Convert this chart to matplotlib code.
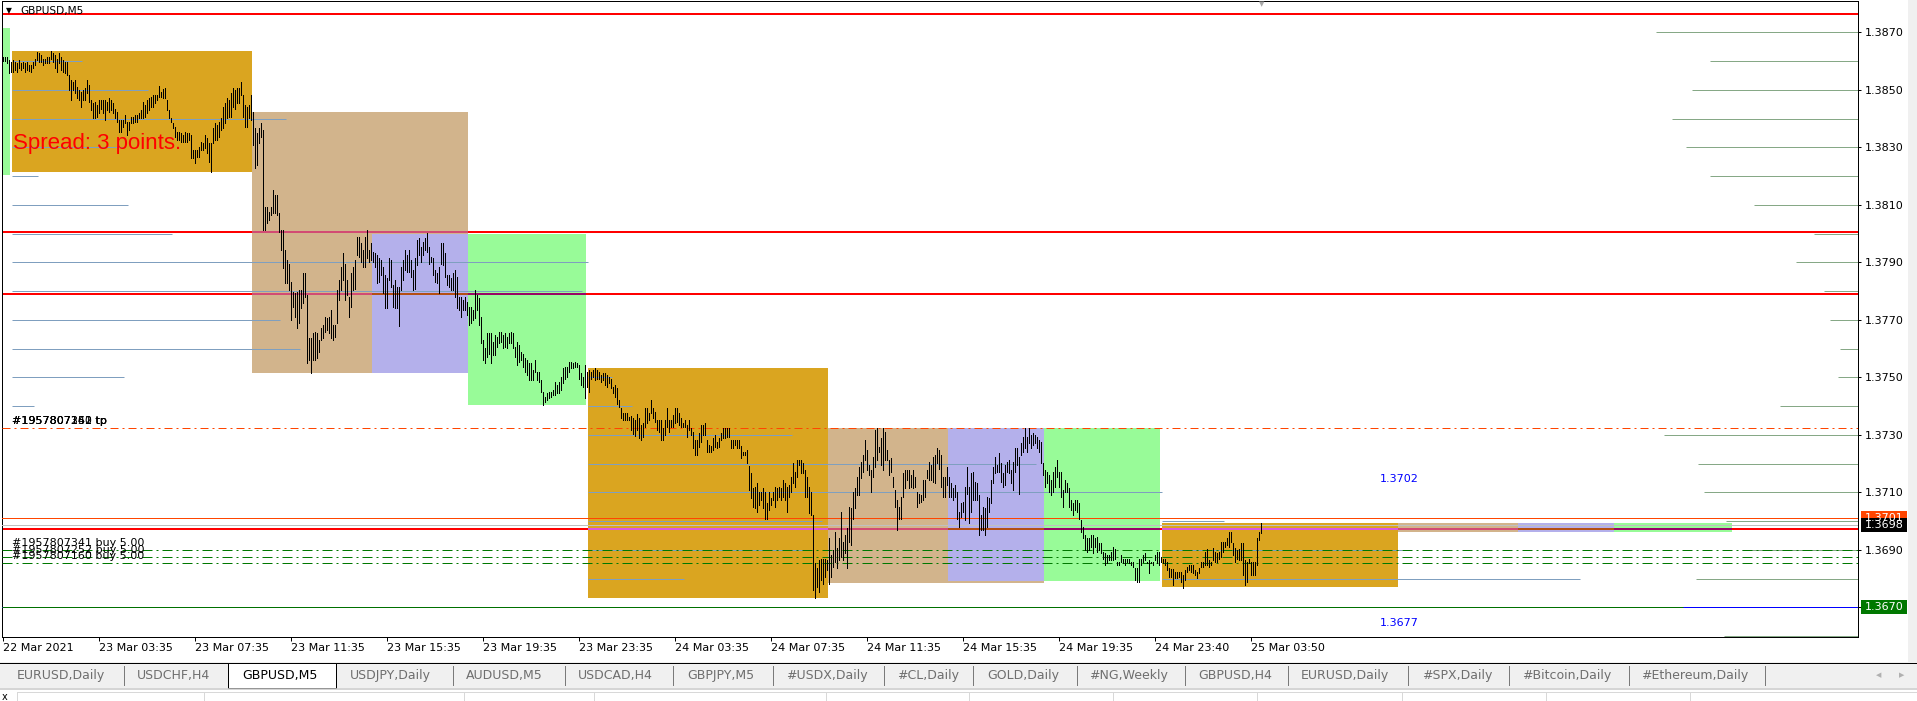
import matplotlib
matplotlib.use("Agg")
import matplotlib.pyplot as plt
from matplotlib.patches import Rectangle
from matplotlib.lines import Line2D

plt.rcParams["lines.scale_dashes"] = False
plt.rcParams["font.family"] = ["DejaVu Sans"]

W, H = 1917, 701

# ---------------- data (GBPUSD M5, bar highs / lows) ----------------
highs = [
    1.38613, 1.38613, 1.38613, 1.38604, 1.38598, 1.38604, 1.38598, 1.38592, 1.38604, 1.38592,
    1.38598, 1.38592, 1.38598, 1.38586, 1.38586, 1.38598, 1.38609, 1.38633, 1.38627, 1.38621,
    1.38609, 1.38609, 1.38615, 1.38615, 1.38636, 1.38627, 1.38621, 1.38609, 1.38627, 1.38615,
    1.38604, 1.38598, 1.38598, 1.38551, 1.38534, 1.38528, 1.38534, 1.38511, 1.38499, 1.38493,
    1.38499, 1.38505, 1.38534, 1.38517, 1.38464, 1.38453, 1.38459, 1.38447, 1.38464, 1.38464,
    1.38464, 1.38464, 1.38459, 1.38470, 1.38464, 1.38453, 1.38435, 1.38424, 1.38395, 1.38395,
    1.38395, 1.38412, 1.38389, 1.38389, 1.38407, 1.38407, 1.38412, 1.38412, 1.38418, 1.38430,
    1.38459, 1.38447, 1.38464, 1.38470, 1.38476, 1.38482, 1.38482, 1.38482, 1.38513, 1.38493,
    1.38502, 1.38505, 1.38464, 1.38430, 1.38401, 1.38383, 1.38372, 1.38354, 1.38354, 1.38349,
    1.38343, 1.38354, 1.38349, 1.38349, 1.38343, 1.38291, 1.38291, 1.38291, 1.38302, 1.38320,
    1.38314, 1.38343, 1.38331, 1.38314, 1.38314, 1.38366, 1.38383, 1.38378, 1.38389, 1.38401,
    1.38441, 1.38453, 1.38470, 1.38464, 1.38488, 1.38505, 1.38499, 1.38505, 1.38505, 1.38528,
    1.38482, 1.38447, 1.38441, 1.38447, 1.38482, 1.38424, 1.38366, 1.38349, 1.38366, 1.38383,
    1.38360, 1.38093, 1.38093, 1.38076, 1.38093, 1.38151, 1.38134, 1.38134, 1.38070, 1.38012,
    1.38012, 1.37943, 1.37908, 1.37896, 1.37833, 1.37798, 1.37792, 1.37798, 1.37804, 1.37804,
    1.37862, 1.37862, 1.37786, 1.37636, 1.37636, 1.37653, 1.37659, 1.37653, 1.37630, 1.37670,
    1.37682, 1.37711, 1.37705, 1.37711, 1.37734, 1.37682, 1.37682, 1.37804, 1.37838, 1.37885,
    1.37931, 1.37896, 1.37838, 1.37780, 1.37862, 1.37885, 1.37908, 1.37989, 1.37989, 1.37966,
    1.37943, 1.37989, 1.38012, 1.37943, 1.37966, 1.37937, 1.37931, 1.37925, 1.37914, 1.37908,
    1.37885, 1.37856, 1.37844, 1.37914, 1.37908, 1.37821, 1.37838, 1.37815, 1.37815, 1.37885,
    1.37908, 1.37943, 1.37925, 1.37943, 1.37908, 1.37873, 1.37914, 1.37978, 1.37983, 1.37954,
    1.37972, 1.37983, 1.38001, 1.37954, 1.37920, 1.37914, 1.37873, 1.37862, 1.37885, 1.37966,
    1.37966, 1.37931, 1.37856, 1.37856, 1.37844, 1.37862, 1.37873, 1.37850, 1.37780, 1.37780,
    1.37769, 1.37780, 1.37763, 1.37746, 1.37746, 1.37734, 1.37804, 1.37786, 1.37775, 1.37711,
    1.37630, 1.37601, 1.37653, 1.37653, 1.37653, 1.37624, 1.37647, 1.37641, 1.37659, 1.37659,
    1.37647, 1.37653, 1.37641, 1.37653, 1.37659, 1.37653, 1.37607, 1.37624, 1.37612, 1.37589,
    1.37583, 1.37566, 1.37560, 1.37549, 1.37549, 1.37525, 1.37562, 1.37520, 1.37520, 1.37491,
    1.37450, 1.37433, 1.37444, 1.37450, 1.37450, 1.37456, 1.37485, 1.37473, 1.37485, 1.37502,
    1.37531, 1.37537, 1.37537, 1.37552, 1.37552, 1.37549, 1.37554, 1.37549, 1.37543, 1.37514,
    1.37502, 1.37543, 1.37520, 1.37525, 1.37520, 1.37525, 1.37531, 1.37525, 1.37520, 1.37508,
    1.37514, 1.37514, 1.37508, 1.37502, 1.37496, 1.37467, 1.37473, 1.37462, 1.37421, 1.37392,
    1.37375, 1.37375, 1.37375, 1.37363, 1.37365, 1.37358, 1.37351, 1.37372, 1.37358, 1.37334,
    1.37340, 1.37392, 1.37392, 1.37375, 1.37421, 1.37392, 1.37380, 1.37351, 1.37351, 1.37351,
    1.37323, 1.37351, 1.37392, 1.37351, 1.37351, 1.37369, 1.37392, 1.37392, 1.37375, 1.37357,
    1.37340, 1.37351, 1.37334, 1.37351, 1.37323, 1.37311, 1.37282, 1.37282, 1.37305, 1.37334,
    1.37334, 1.37340, 1.37282, 1.37265, 1.37261, 1.37288, 1.37299, 1.37276, 1.37288, 1.37305,
    1.37323, 1.37323, 1.37323, 1.37323, 1.37282, 1.37282, 1.37282, 1.37282, 1.37282, 1.37261,
    1.37241, 1.37241, 1.37247, 1.37191, 1.37166, 1.37114, 1.37120, 1.37131, 1.37102, 1.37102,
    1.37114, 1.37102, 1.37062, 1.37102, 1.37079, 1.37102, 1.37120, 1.37114, 1.37120, 1.37114,
    1.37143, 1.37131, 1.37120, 1.37125, 1.37154, 1.37201, 1.37172, 1.37212, 1.37212, 1.37212,
    1.37201, 1.37178, 1.37154, 1.37120, 1.37102, 1.37021, 1.36853, 1.36836, 1.36865, 1.36870,
    1.36870, 1.36870, 1.36865, 1.36940, 1.36882, 1.36899, 1.36963, 1.36905, 1.36940, 1.37033,
    1.36928, 1.36951, 1.36975, 1.37050, 1.37044, 1.37102, 1.37114, 1.37154, 1.37189, 1.37207,
    1.37230, 1.37282, 1.37247, 1.37195, 1.37178, 1.37224, 1.37317, 1.37323, 1.37259, 1.37288,
    1.37323, 1.37311, 1.37247, 1.37212, 1.37218, 1.37154, 1.37108, 1.37073, 1.37050, 1.37085,
    1.37166, 1.37178, 1.37178, 1.37178, 1.37160, 1.37178, 1.37154, 1.37102, 1.37096, 1.37091,
    1.37143, 1.37143, 1.37178, 1.37207, 1.37195, 1.37224, 1.37230, 1.37253, 1.37247, 1.37230,
    1.37154, 1.37154, 1.37189, 1.37154, 1.37131, 1.37114, 1.37125, 1.37102, 1.37033, 1.37062,
    1.37067, 1.37120, 1.37189, 1.37120, 1.37166, 1.37172, 1.37137, 1.37131, 1.37091, 1.37021,
    1.37050, 1.37044, 1.37085, 1.37079, 1.37143, 1.37189, 1.37224, 1.37195, 1.37236, 1.37201,
    1.37166, 1.37195, 1.37207, 1.37212, 1.37178, 1.37207, 1.37253, 1.37253, 1.37224, 1.37270,
    1.37294, 1.37323, 1.37294, 1.37323, 1.37299, 1.37305, 1.37299, 1.37294, 1.37282, 1.37276,
    1.37201, 1.37178, 1.37172, 1.37160, 1.37143, 1.37172, 1.37189, 1.37212, 1.37172, 1.37172,
    1.37108, 1.37143, 1.37131, 1.37114, 1.37073, 1.37062, 1.37073, 1.37073, 1.37062, 1.37004,
    1.36980, 1.36951, 1.36940, 1.36940, 1.36951, 1.36951, 1.36940, 1.36946, 1.36923, 1.36923,
    1.36894, 1.36888, 1.36882, 1.36882, 1.36894, 1.36911, 1.36902, 1.36859, 1.36859, 1.36882,
    1.36870, 1.36870, 1.36870, 1.36870, 1.36859, 1.36859, 1.36836, 1.36836, 1.36870, 1.36870,
    1.36882, 1.36888, 1.36859, 1.36865, 1.36859, 1.36859, 1.36882, 1.36894, 1.36894, 1.36876,
    1.36870, 1.36870, 1.36859, 1.36836, 1.36832, 1.36832, 1.36824, 1.36824, 1.36824, 1.36824,
    1.36812, 1.36830, 1.36841, 1.36847, 1.36847, 1.36847, 1.36830, 1.36824, 1.36836, 1.36859,
    1.36859, 1.36894, 1.36902, 1.36865, 1.36859, 1.36905, 1.36894, 1.36888, 1.36894, 1.36928,
    1.36928, 1.36928, 1.36940, 1.36963, 1.36963, 1.36923, 1.36905, 1.36899, 1.36902, 1.36923,
    1.36923, 1.36865, 1.36859, 1.36870, 1.36859, 1.36859, 1.36859, 1.36940, 1.36963, 1.36992,
]
lows = [
    1.38601, 1.38601, 1.38592, 1.38560, 1.38563, 1.38563, 1.38569, 1.38563, 1.38575, 1.38569,
    1.38575, 1.38563, 1.38569, 1.38565, 1.38563, 1.38575, 1.38586, 1.38604, 1.38598, 1.38598,
    1.38586, 1.38592, 1.38592, 1.38592, 1.38609, 1.38598, 1.38575, 1.38563, 1.38592, 1.38569,
    1.38563, 1.38557, 1.38551, 1.38499, 1.38464, 1.38499, 1.38488, 1.38470, 1.38464, 1.38441,
    1.38464, 1.38464, 1.38488, 1.38459, 1.38430, 1.38401, 1.38401, 1.38407, 1.38418, 1.38435,
    1.38418, 1.38395, 1.38430, 1.38424, 1.38430, 1.38418, 1.38401, 1.38389, 1.38354, 1.38354,
    1.38372, 1.38383, 1.38343, 1.38360, 1.38383, 1.38383, 1.38389, 1.38389, 1.38401, 1.38401,
    1.38401, 1.38407, 1.38418, 1.38430, 1.38441, 1.38441, 1.38453, 1.38464, 1.38476, 1.38476,
    1.38470, 1.38470, 1.38430, 1.38401, 1.38389, 1.38366, 1.38337, 1.38325, 1.38325, 1.38320,
    1.38320, 1.38320, 1.38320, 1.38325, 1.38262, 1.38262, 1.38244, 1.38267, 1.38267, 1.38291,
    1.38291, 1.38296, 1.38279, 1.38250, 1.38215, 1.38314, 1.38325, 1.38325, 1.38337, 1.38360,
    1.38366, 1.38383, 1.38401, 1.38407, 1.38407, 1.38441, 1.38435, 1.38453, 1.38453, 1.38482,
    1.38407, 1.38372, 1.38372, 1.38401, 1.38395, 1.38308, 1.38227, 1.38238, 1.38314, 1.38337,
    1.38012, 1.38012, 1.38036, 1.38047, 1.38065, 1.38070, 1.38070, 1.38065, 1.38007, 1.37943,
    1.37879, 1.37827, 1.37827, 1.37804, 1.37699, 1.37746, 1.37711, 1.37670, 1.37688, 1.37740,
    1.37757, 1.37780, 1.37549, 1.37560, 1.37514, 1.37560, 1.37560, 1.37566, 1.37589, 1.37630,
    1.37636, 1.37659, 1.37665, 1.37653, 1.37636, 1.37630, 1.37641, 1.37688, 1.37769, 1.37804,
    1.37838, 1.37769, 1.37786, 1.37711, 1.37746, 1.37804, 1.37809, 1.37925, 1.37920, 1.37902,
    1.37885, 1.37885, 1.37914, 1.37902, 1.37908, 1.37902, 1.37885, 1.37827, 1.37833, 1.37856,
    1.37792, 1.37740, 1.37740, 1.37838, 1.37815, 1.37746, 1.37740, 1.37740, 1.37678, 1.37804,
    1.37838, 1.37873, 1.37867, 1.37867, 1.37850, 1.37804, 1.37809, 1.37891, 1.37925, 1.37902,
    1.37925, 1.37943, 1.37937, 1.37896, 1.37902, 1.37856, 1.37833, 1.37827, 1.37792, 1.37896,
    1.37891, 1.37850, 1.37821, 1.37815, 1.37804, 1.37804, 1.37780, 1.37740, 1.37734, 1.37711,
    1.37734, 1.37734, 1.37717, 1.37682, 1.37688, 1.37699, 1.37705, 1.37734, 1.37682, 1.37618,
    1.37560, 1.37549, 1.37572, 1.37583, 1.37549, 1.37578, 1.37578, 1.37607, 1.37618, 1.37624,
    1.37601, 1.37607, 1.37601, 1.37618, 1.37618, 1.37601, 1.37572, 1.37543, 1.37554, 1.37560,
    1.37537, 1.37520, 1.37508, 1.37491, 1.37491, 1.37491, 1.37520, 1.37491, 1.37485, 1.37450,
    1.37404, 1.37415, 1.37421, 1.37427, 1.37433, 1.37438, 1.37438, 1.37444, 1.37444, 1.37456,
    1.37479, 1.37496, 1.37502, 1.37520, 1.37531, 1.37531, 1.37537, 1.37537, 1.37496, 1.37473,
    1.37467, 1.37427, 1.37467, 1.37450, 1.37496, 1.37502, 1.37491, 1.37496, 1.37496, 1.37485,
    1.37491, 1.37473, 1.37467, 1.37479, 1.37462, 1.37444, 1.37433, 1.37409, 1.37398, 1.37357,
    1.37351, 1.37351, 1.37351, 1.37351, 1.37317, 1.37303, 1.37296, 1.37317, 1.37289, 1.37282,
    1.37294, 1.37328, 1.37340, 1.37351, 1.37375, 1.37357, 1.37346, 1.37317, 1.37311, 1.37282,
    1.37282, 1.37299, 1.37328, 1.37311, 1.37328, 1.37328, 1.37340, 1.37346, 1.37334, 1.37328,
    1.37328, 1.37328, 1.37294, 1.37317, 1.37299, 1.37253, 1.37230, 1.37230, 1.37259, 1.37276,
    1.37299, 1.37299, 1.37241, 1.37241, 1.37241, 1.37247, 1.37259, 1.37253, 1.37259, 1.37282,
    1.37288, 1.37288, 1.37294, 1.37294, 1.37253, 1.37253, 1.37265, 1.37253, 1.37253, 1.37218,
    1.37230, 1.37230, 1.37201, 1.37108, 1.37079, 1.37050, 1.37044, 1.37033, 1.37056, 1.37073,
    1.37044, 1.37009, 1.37009, 1.37038, 1.37056, 1.37073, 1.37050, 1.37073, 1.37085, 1.37073,
    1.37085, 1.37073, 1.37033, 1.37085, 1.37102, 1.37131, 1.37120, 1.37154, 1.37195, 1.37166,
    1.37166, 1.37085, 1.37085, 1.37027, 1.37021, 1.36760, 1.36731, 1.36772, 1.36754, 1.36795,
    1.36783, 1.36807, 1.36830, 1.36783, 1.36807, 1.36841, 1.36859, 1.36836, 1.36865, 1.36876,
    1.36865, 1.36888, 1.36836, 1.36928, 1.36917, 1.37009, 1.37044, 1.37091, 1.37091, 1.37149,
    1.37172, 1.37212, 1.37178, 1.37160, 1.37102, 1.37154, 1.37189, 1.37212, 1.37241, 1.37195,
    1.37178, 1.37212, 1.37212, 1.37160, 1.37172, 1.37120, 1.37050, 1.36969, 1.37009, 1.37009,
    1.37085, 1.37114, 1.37143, 1.37114, 1.37120, 1.37114, 1.37120, 1.37050, 1.37062, 1.37067,
    1.37073, 1.37085, 1.37149, 1.37143, 1.37143, 1.37137, 1.37131, 1.37201, 1.37183, 1.37120,
    1.37085, 1.37085, 1.37125, 1.37085, 1.37085, 1.37073, 1.37085, 1.37009, 1.36980, 1.37015,
    1.37033, 1.37004, 1.37096, 1.36992, 1.37033, 1.37073, 1.37073, 1.37073, 1.36951, 1.36969,
    1.36969, 1.36951, 1.36980, 1.37033, 1.37062, 1.37131, 1.37166, 1.37172, 1.37172, 1.37137,
    1.37120, 1.37125, 1.37172, 1.37166, 1.37131, 1.37108, 1.37172, 1.37195, 1.37096, 1.37230,
    1.37241, 1.37253, 1.37241, 1.37270, 1.37253, 1.37265, 1.37270, 1.37253, 1.37241, 1.37201,
    1.37160, 1.37120, 1.37131, 1.37102, 1.37091, 1.37102, 1.37120, 1.37154, 1.37120, 1.37085,
    1.37050, 1.37102, 1.37102, 1.37050, 1.37038, 1.37021, 1.37038, 1.37033, 1.37009, 1.36963,
    1.36940, 1.36899, 1.36894, 1.36899, 1.36911, 1.36888, 1.36911, 1.36894, 1.36899, 1.36888,
    1.36870, 1.36847, 1.36853, 1.36865, 1.36865, 1.36865, 1.36870, 1.36847, 1.36847, 1.36859,
    1.36853, 1.36847, 1.36859, 1.36853, 1.36847, 1.36841, 1.36795, 1.36789, 1.36789, 1.36847,
    1.36859, 1.36865, 1.36853, 1.36818, 1.36853, 1.36847, 1.36865, 1.36853, 1.36847, 1.36859,
    1.36853, 1.36847, 1.36830, 1.36807, 1.36807, 1.36778, 1.36801, 1.36801, 1.36807, 1.36789,
    1.36766, 1.36795, 1.36824, 1.36830, 1.36824, 1.36818, 1.36812, 1.36801, 1.36818, 1.36841,
    1.36841, 1.36847, 1.36847, 1.36841, 1.36847, 1.36865, 1.36859, 1.36859, 1.36870, 1.36876,
    1.36894, 1.36911, 1.36917, 1.36911, 1.36928, 1.36882, 1.36859, 1.36870, 1.36865, 1.36865,
    1.36812, 1.36778, 1.36789, 1.36853, 1.36812, 1.36812, 1.36812, 1.36847, 1.36934, 1.36960,
]

time_tick_bars = [0, 48, 96, 144, 192, 240, 288, 336, 384, 432, 480, 528, 576, 624]
time_tick_labels = ["22 Mar 2021", "23 Mar 03:35", "23 Mar 07:35", "23 Mar 11:35",
                    "23 Mar 15:35", "23 Mar 19:35", "23 Mar 23:35", "24 Mar 03:35",
                    "24 Mar 07:35", "24 Mar 11:35", "24 Mar 15:35", "24 Mar 19:35",
                    "24 Mar 23:40", "25 Mar 03:50"]
price_ticks = [1.3670, 1.3690, 1.3710, 1.3730, 1.3750, 1.3770,
               1.3790, 1.3810, 1.3830, 1.3850, 1.3870]

# session boxes (bar from, bar to, high, low, kind)
box_start = [-20, 5, 125, 185, 233, 293, 413, 473, 521, 580, 698, 758, 806]
box_end = [4, 125, 233, 233, 292, 413, 521, 521, 579, 698, 806, 806, 865]
box_high = [1.38715, 1.38635, 1.38423, 1.37998, 1.37998, 1.37532, 1.37324,
            1.37324, 1.37324, 1.36993, 1.36993, 1.36993, 1.36993]
box_low = [1.38204, 1.38214, 1.37515, 1.37515, 1.37405, 1.36732, 1.36786,
           1.36792, 1.36792, 1.36771, 1.36962, 1.36962, 1.36962]
box_kind = ["green", "gold", "tan", "purple", "green", "gold", "tan",
            "purple", "green", "gold", "tan", "purple", "green"]

# daily level profiles: start bar, levels, end bars
profile_start = [5, 293, 580]
profile_levels = [
    [1.3860, 1.3850, 1.3840, 1.3830, 1.3820, 1.3810, 1.3800, 1.3790, 1.3780,
     1.3770, 1.3760, 1.3750, 1.3740],
    [1.3750, 1.3740, 1.3730, 1.3720, 1.3710, 1.3700, 1.3690, 1.3680],
    [1.3700, 1.3690, 1.3680],
]
profile_end = [
    [40, 73, 142, 60, 18, 63, 85, 293, 290, 139, 149, 61, 16],
    [305, 315, 395, 517, 580, 410, 402, 341],
    [611, 700, 789],
]

# right-hand level ladder: level, first bar
ladder_levels = [1.3870, 1.3860, 1.3850, 1.3840, 1.3830, 1.3820, 1.3810, 1.3800,
                 1.3790, 1.3780, 1.3770, 1.3760, 1.3750, 1.3740, 1.3730, 1.3720,
                 1.3710, 1.3700, 1.3690, 1.3680, 1.3660]
ladder_start = [827, 854, 845, 835, 842, 854, 876, 906, 897, 911, 914, 919, 918,
                889, 831, 848, 851, 862, 870, 847, 861]

red_levels = [1.38765, 1.38005, 1.37790, 1.36972]
tp_level = 1.37325
order_levels = [1.36898, 1.36876, 1.36855]
order_ids = ["#1957807341", "#1957807252", "#1957807160"]
ask_level = 1.37011
bid_level = 1.36986
stop_level = 1.3670
range_texts = ["1.3702", "1.3677"]
range_text_bar = 689
range_text_prices = [1.37147, 1.36646]

tabs = ["EURUSD,Daily", "USDCHF,H4", "GBPUSD,M5", "USDJPY,Daily", "AUDUSD,M5",
        "USDCAD,H4", "GBPJPY,M5", "#USDX,Daily", "#CL,Daily", "GOLD,Daily",
        "#NG,Weekly", "GBPUSD,H4", "EURUSD,Daily", "#SPX,Daily",
        "#Bitcoin,Daily", "#Ethereum,Daily"]
active_tab = 2

# ---------------- styles ----------------
box_colors = {"gold": "#DAA520", "tan": "#D2B48C", "purple": "#B4B0EB",
              "green": "#98FB98"}
PX = 0.72  # one pixel in points


def xor_color(line_rgb, fill_hex):
    fill = [int(fill_hex[i:i + 2], 16) for i in (1, 3, 5)]
    return "#%02x%02x%02x" % tuple((a ^ b) ^ 255 for a, b in zip(line_rgb, fill))


fig = plt.figure(figsize=(W / 100, H / 100), dpi=100)
fig.patch.set_facecolor("white")
ax = fig.add_axes([2 / W, 1 - 637 / H, 1856 / W, 636 / H])
ax.set_xlim(-0.5, 927.5)
ax.set_ylim(1.36597, 1.38809)

for s, e, hi, lo, k in zip(box_start, box_end, box_high, box_low, box_kind):
    ax.add_patch(Rectangle((s - 0.5, lo), e - s, hi - lo, fc=box_colors[k],
                           ec="none", zorder=1))

# red lines, xor-blended where they cross a box
for lv in red_levels:
    ax.axhline(lv, color="#FF0000", lw=2 * PX, zorder=2)
    for s, e, hi, lo, k in zip(box_start, box_end, box_high, box_low, box_kind):
        if lo < lv < hi:
            ax.hlines(lv, s - 0.5, e - 0.5, color=xor_color((255, 0, 0), box_colors[k]),
                      lw=2 * PX, zorder=2.1)

for st, levels, ends in zip(profile_start, profile_levels, profile_end):
    for lv, en in zip(levels, ends):
        ax.hlines(lv, st - 0.5, en - 0.5, color="#7F9FBF", lw=PX, zorder=3)

for lv, st in zip(ladder_levels, ladder_start):
    ax.hlines(lv, st - 0.5, 927.5, color="#86A886", lw=PX, zorder=3)

ax.axhline(stop_level, color="#0000FF", lw=PX, zorder=3)
ax.hlines(stop_level, -0.5, 840, color="#007000", lw=PX, zorder=3.1)
ax.axhline(ask_level, color="#FF4500", lw=PX, zorder=3)
ax.axhline(bid_level, color="#C0C0C0", lw=PX, zorder=3)
ax.axhline(tp_level, color="#FF4500", lw=PX, zorder=3,
           dashes=(8 * PX, 4 * PX, 2 * PX, 4 * PX))
for lv in order_levels:
    ax.axhline(lv, color="#007800", lw=PX, zorder=3,
               dashes=(10 * PX, 4 * PX, 2 * PX, 4 * PX))

ax.vlines(range(len(highs)), lows, highs, color="black", lw=PX, zorder=5,
          antialiased=False)

for oid in order_ids:
    ax.annotate(f"{oid} tp", xy=(4.5, tp_level), xytext=(0, 2),
                textcoords="offset pixels", fontsize=8, va="bottom", zorder=6)
for oid, lv in zip(order_ids, order_levels):
    ax.annotate(f"{oid} buy 5.00", xy=(4.5, lv), xytext=(0, 2),
                textcoords="offset pixels", fontsize=8, va="bottom", zorder=6)

for txt, pr in zip(range_texts, range_text_prices):
    ax.text(range_text_bar - 0.5, pr, txt, color="#0000FF", fontsize=8,
            va="center", zorder=6)

# axes look
for sp in ax.spines.values():
    sp.set_linewidth(PX)
    sp.set_color("black")
ax.yaxis.tick_right()
ax.set_yticks(price_ticks)
ax.set_yticklabels([f"{v:.4f}" for v in price_ticks])
ax.tick_params(axis="y", direction="out", length=3 * PX, width=PX, pad=4 * PX,
               labelsize=8)
ax.set_xticks(time_tick_bars)
ax.set_xticklabels(time_tick_labels)
ax.tick_params(axis="x", direction="out", length=4 * PX, width=PX, pad=1.5,
               labelsize=8)
for lbl in ax.get_xticklabels():
    lbl.set_ha("left")


# ---------------- overlay in figure pixels ----------------
def rect_px(x0, y0, x1, y1, **kw):
    fig.add_artist(Rectangle((x0 / W, 1 - y1 / H), (x1 - x0) / W, (y1 - y0) / H,
                             transform=fig.transFigure, **kw))


def line_px(xs, ys, **kw):
    fig.add_artist(Line2D([x / W for x in xs], [1 - y / H for y in ys],
                          transform=fig.transFigure, **kw))


def text_px(x, y, s, **kw):
    fig.text(x / W, 1 - y / H, s, **kw)


def price_to_px(p):
    return H - ax.transData.transform((0, p))[1]


fig.canvas.draw()

# price boxes on the right scale
for lv, txt, col in [(ask_level, "1.3701", "#FF4500"), (bid_level, "1.3698", "black"),
                     (stop_level, "1.3670", "#007800")]:
    yc = price_to_px(lv)
    rect_px(1861, yc - 7, 1907, yc + 7, fc=col, ec="none", zorder=5)
    text_px(1884, yc, txt, color="white", fontsize=8, ha="center", va="center",
            zorder=6)

# chart title and markers
text_px(6, 11, "\u25BC", fontsize=5.5, va="center", color="black")
text_px(20, 11, "GBPUSD,M5", fontsize=7.6, va="center")
text_px(1262, 4, "\u25BC", fontsize=5, ha="center", va="center", color="#A8A8A8")
text_px(13, 144, "Spread: 3 points.", fontsize=16, color="#FF0000", va="center",
        family=["Liberation Sans", "DejaVu Sans"])

# right strip
rect_px(1908, 0, 1917, 662, fc="#F0F0F0", ec="none")

# tab bar
rect_px(0, 662, W, 688, fc="#F0F0F0", ec="none")
line_px([0, W], [662.5, 662.5], color="black", lw=PX)
tab_x = [17, 137, 242, 350, 466, 578, 687, 786, 897, 987, 1089, 1198, 1301,
         1422, 1522, 1641]
sep_x = [124, 453, 565, 673, 773, 884, 973, 1077, 1185, 1288, 1408, 1509, 1629, 1765]
rect_px(228, 662.5, 336, 688, fc="white", ec="black", lw=PX, zorder=2)
for i, (name, x) in enumerate(zip(tabs, tab_x)):
    text_px(x, 675, name, fontsize=9, va="center",
            color="black" if i == active_tab else "#6E6E6E", zorder=3)
for x in sep_x:
    line_px([x, x], [666, 685], color="#7A7A7A", lw=PX)
text_px(1879, 675, "\u25C0", fontsize=5, ha="center", va="center", color="#B0B0B0")
text_px(1902, 675, "\u25B6", fontsize=5, ha="center", va="center", color="#B0B0B0")

# terminal strip below the tabs
line_px([0, W], [688.5, 688.5], color="#C8C8C8", lw=1.5 * PX)
line_px([17, W], [692, 692], color="#D8D8D8", lw=PX)
for x in [17, 204, 464, 594, 826, 969, 1113, 1257, 1402, 1546, 1690]:
    line_px([x, x], [692, 701], color="#D8D8D8", lw=PX)
text_px(5, 697, "x", fontsize=7, ha="center", va="center")

fig.savefig("out.png", dpi=100, facecolor="white")
